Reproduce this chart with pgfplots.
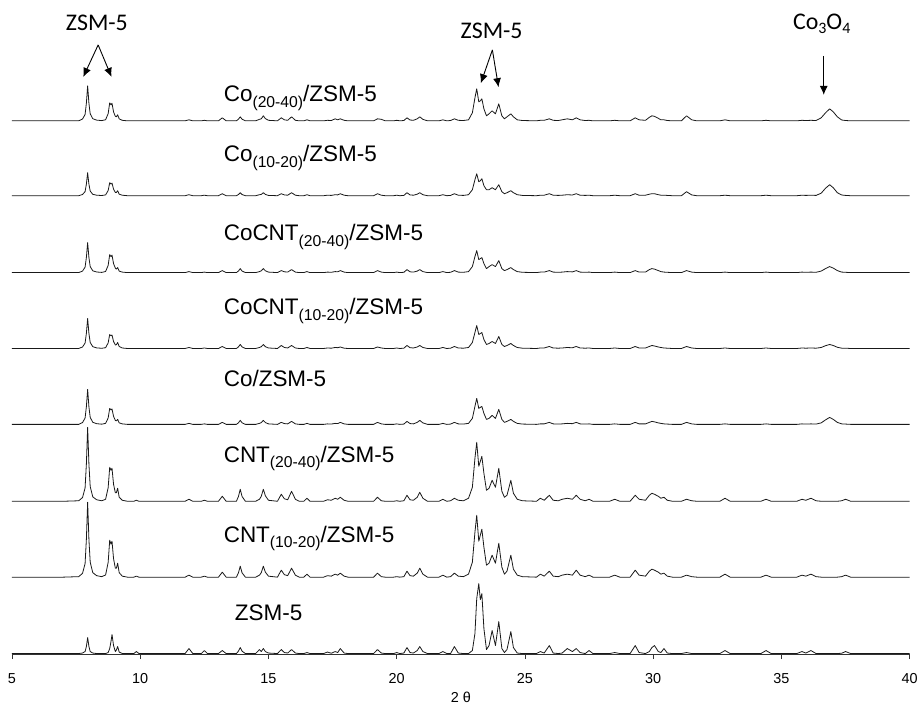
\documentclass[border=0pt]{standalone}
\usepackage{fontspec}
\setmainfont{Liberation Sans}
\newfontfamily\calibri{Carlito}
\usepackage{pgfplots}
\usepackage{pgfplotstable}
\pgfplotsset{compat=1.18}
\usetikzlibrary{arrows.meta}
\newcommand{\sub}[1]{\raisebox{-5.5pt}{\fontsize{15.8}{15.8}\selectfont #1}}
\newcommand{\csub}[1]{\raisebox{-4pt}{\fontsize{16}{16}\selectfont #1}}
\tikzset{
  lbl/.style={anchor=base west, font=\fontsize{22.6}{22.6}\selectfont, inner sep=0pt},
  ann/.style={anchor=base, font=\calibri\fontsize{24}{24}\selectfont, inner sep=0pt},
  trace/.style={black!90, solid, no marks, line width=0.8bp, line join=round},
}

\pgfplotstableread{
x Z C1 C2 Co CC1 CC2 K1 K2
5.0 0 0 0 0 0 0 0 0
7.0 0 0 0 0 0 0 0 0
7.6 0 0.5 0.5 0 0 0 0 0
7.75 0.5 3.8 3.7 1.8 1.5 1.5 1.2 1.8
7.85 2 13.5 13.3 6.3 5.4 5.4 4.1 6.3
7.9 7 37.5 37 17.5 15 15 11.5 17.5
7.95 16 75 74 35 30 30 23 35
8.0 7 37.5 37 17.5 15 15 11.5 17.5
8.05 2 15 14.8 7 6 6 4.6 7
8.15 0.5 4.5 4.4 2.1 1.8 1.8 1.4 2.1
8.3 0 1.5 1.5 0.7 0.6 0.6 0.5 0.7
8.5 0 0.5 0.5 0.2 0.2 0.2 0.2 0.2
8.65 0 2.2 2 1 0.8 1.1 0.8 1.1
8.75 1 14.8 13.6 6.4 5.6 7.2 5.2 7.2
8.81 5 37 34 16 14 18 13 18
8.86 12 33 31 14.5 12.6 16 11.7 16
8.9 19 36 33 15.5 13.5 17.5 12.6 17.5
8.96 8 18.5 17 8 7 9 6.5 9
9.03 2 9 8.5 4 3.5 4.5 3.3 4.5
9.07 3.5 9 8.5 3.5 3.8 3.5 3.2 4
9.12 7 14 13 5 6 5 5 6
9.18 1.5 4.5 4 1.5 2 1.5 1.5 2
9.3 0 1 1 0.5 0.5 0.5 0.5 0.5
9.5 0 0 0 0 0 0 0 0
9.75 0 0 0 0 0 0 0 0
9.85 2 1 1 0 0 0 0 0
9.95 0 0 0 0 0 0 0 0
11.75 0 0 0 0 0 0 0 0
11.9 5 2 2 1 1 1 1 1
12.05 0 0 0 0 0 0 0 0
12.38 0 0 0 0 0 0 0 0
12.5 3 1 1 0.5 0.5 0.5 0.5 0.5
12.62 0 0 0 0 0 0 0 0
13.05 0 0 0 0 0 0 0 0
13.2 3 5 5 2 2 2 2 3
13.35 0 0 0 0 0 0 0 0
13.75 0 0 0 0 0 0 0 0
13.83 2.4 4.4 4.8 1.6 1.6 1.6 1.2 1.6
13.9 6 11 12 4 4 4 3 4
13.97 2.4 4.4 4.8 1.6 1.6 1.6 1.2 1.6
14.1 0 0 0 0 0 0 0 0
14.5 0 0 0 0 0 0 0 0
14.65 4 2 2 1 1 1 1 1.5
14.72 2 4.5 5 1.8 1.8 1.8 1.3 2
14.8 5 11 12 4 4 4 3 5
14.88 2 5 5.5 1.8 1.8 1.8 1.3 2.2
15.0 0.5 1 1 0.5 0.5 0.5 0.3 0.5
15.35 0 0 0 0 0 0 0 0
15.5 4 7 7 2 3 2 2 3
15.62 1 2.5 2.5 0.8 1 0.8 0.8 1
15.75 0.5 1.5 1.5 0.5 0.5 0.5 0.5 0.5
15.9 4 9 10 3 3 3 3 4
16.05 0.5 2 2 0.5 0.5 0.5 0.5 0.5
16.2 0 0 0 0 0 0 0 0
16.38 0 0 0 0 0 0 0 0
16.5 1 3 3 1 1 1 1 1
16.62 0 0 0 0 0 0 0 0
17.15 0 0 0 0 0 0 0 0
17.3 1.5 1.5 1.5 0.5 0.5 0.5 0.5 0.5
17.45 0.3 1 1 0.3 0.3 0.3 0.3 0.3
17.6 2 3 3 1 1 1 1 2
17.7 1 2 2 0.8 0.8 0.8 0.8 1
17.8 5 4 4 2 1.5 2 2 2
17.95 0.5 1 1 0.5 0.3 0.5 0.5 0.5
18.1 0 0 0 0 0 0 0 0
19.1 0 0 0 0 0 0 0 0
19.25 4 4 4 2 1.5 2 2 2
19.4 0.5 0.5 0.5 0.5 0.5 0.5 0.5 1.5
19.55 0 0 0 0 0 0 0 0
19.88 0 0 0 0 0 0 0 0
20.0 1 0.5 0.5 0.5 0.5 0.5 0.5 0.5
20.12 0 0 0 0 0 0 0 0
20.28 0.5 0.5 0.5 0.3 0.3 0.3 0.3 0.3
20.4 6 6 6 3 3 3 3 3
20.52 1 1.5 1.5 0.8 0.8 0.8 0.8 0.8
20.65 0.5 1 1 0.5 0.5 0.5 0.5 0.5
20.8 3 4 4 2 1.5 1.5 1.5 2
20.9 7 9 9 4 3 3 3 4
21.02 2 3 3 1.5 1 1 1 1.5
21.2 0 0 0 0 0 0 0 0
21.65 0 0 0 0 0 0 0 0
21.8 2 2 2 1 1 1 1 1
21.95 0 0 0 0 0 0 0 0
22.1 0 0.5 0.5 0.3 0.3 0.3 0.3 0.3
22.25 7 4 3 2 2 2 2 2
22.4 0.5 1 1 0.5 0.5 0.5 0.5 0.5
22.6 0 0.5 0.5 0.3 0.3 0.3 0.3 0.3
22.8 0 3 3 1 1 1 1 1
22.95 3 15 14 6 6 6 6 8
23.05 20 45 43 18 16 16 16 23
23.12 55 62 59 26 23 22 22 32
23.2 70 36 35 16 14 13 14 19
23.26 54 42 40 17 15 14 15 20
23.32 60 48 45 18 16 15 17 22
23.4 25 30 28 11 9 9 10 12
23.5 4 12 11 5 4 4 6 5
23.6 8 14 13 6 5 6 6 7
23.72 23 22 21 9 7 8 8 10
23.85 8 14 14 6 5 6 6 7
23.98 32 34 33 15 12 12 11 17
24.1 5 10 10 5 4 4 4 5
24.2 1 3 4 2 2 2 2 2
24.3 4 6 6 3 3 3 3 4
24.45 22 22 21 5 5 5 5 7
24.55 6 8 8 3 3 3 3 4
24.7 0.5 2 2 1 1 1 1 1
24.9 0 0.5 0.5 0.3 0.3 0.3 0.3 0.3
25.45 0 0 0 0 0 0 0 0
25.6 2 3 3 0.5 0.5 0.5 0.5 0.5
25.75 0.5 1 1 0.5 0.5 0.5 0.5 0.5
25.95 8 6 6 2 2 2 2 2
26.1 0.5 1 1 0.5 0.5 0.5 0.5 0.5
26.3 0 0.5 0.5 0.3 0.3 0.3 0.3 0.3
26.45 0.5 2 2 0.5 0.5 0.5 0.5 1
26.65 5 3 3 1 1 1 1 2
26.85 2 2 2 0.7 0.7 0.7 0.7 1
27.0 5 7 6 2 2 2 2 3
27.15 1 2 2 0.5 0.5 0.5 0.5 1
27.35 0 0.5 0.5 0.3 0.3 0.3 0.3 0.3
27.5 3 2 2 0.5 0.5 0.5 0.5 0.5
27.65 0 0 0 0 0 0 0 0
28.3 0 0 0 0 0 0 0 0
28.5 1 2 2 0.5 0.5 0.5 0.5 0.5
28.7 0 0 0 0 0 0 0 0
29.1 0 0 0 0 0 0 0 0
29.3 8 7 6 2 2 2 2 3
29.45 1 2 2 0.5 0.5 0.5 0.5 1
29.7 0 1 1 0.5 0.5 0.5 0.5 0.5
29.85 2 6 6 2 2 3 1.5 3.5
29.95 6 8 8 3 3 4 2 5
30.05 8 7 7 2.5 2.5 3.5 2 4.5
30.2 2 5 5 1.5 1.5 2 1 2.5
30.3 1 3 3 1 1 1 0.5 1
30.42 5 4 4 0.5 0.5 0.5 0.5 1
30.55 0.5 1 1 0.3 0.3 0.3 0.3 0.3
30.75 0 0 0 0 0 0 0 0
31.1 0 0 0 0 0 0 0 0
31.3 1 2 2 2 2 2 4 5
31.5 0 0.5 0.5 0.5 0.5 0.5 0.8 1
31.7 0 0 0 0 0 0 0 0
32.6 0 0 0 0 0 0 0 0
32.8 3 3 3 0.5 0.5 0.5 0.5 1
33.0 0 0 0 0 0 0 0 0
34.2 0 0 0 0 0 0 0 0
34.4 3 2 2 0.5 0.5 0.5 0.5 0.5
34.6 0 0 0 0 0 0 0 0
35.6 0 0 0 0 0 0 0 0
35.8 2 2 2 0.5 0.5 0.5 0.5 0.5
35.95 0.5 1 1 0.3 0.3 0.3 0.3 0.3
36.15 3 3 3 0.5 0.5 0.5 0.5 0.5
36.35 0 0.5 0.5 0.3 0.3 0.3 0.3 0.3
36.55 0 0 0 1.5 1 1.5 2.5 3
36.72 0 0 0 4.5 2.8 4 7.5 8
36.88 0 0 0 7 4 6 11 12
37.02 0 0 0 5 3 4.5 8 9
37.18 0 0 0 2 1.2 2 3 4
37.35 0.3 0.5 0.5 0.5 0.3 0.5 0.7 0.8
37.5 2 2 2 0.3 0.3 0.3 0.3 0.3
37.7 0 0 0 0 0 0 0 0
40.0 0 0 0 0 0 0 0 0
}\xrd

\begin{document}
\begin{tikzpicture}
\path (-12bp,-49bp) rectangle (909bp,655bp);
\begin{axis}[
  scale only axis,
  width=899bp, height=655bp,
  xmin=5, xmax=40, ymin=0, ymax=655,
  clip=false,
  axis x line=bottom,
  axis y line=none,
  axis line style={black!80, line width=0.8bp, -},
  xtick={5,10,...,40},
  tick align=outside,
  major tick length=5bp,
  tick style={black!80, line width=0.8bp},
  /pgf/number format/assume math mode=true,
  xticklabel style={font=\fontsize{14.5}{14.5}\selectfont, yshift=-11bp},
  xlabel={2 θ},
  xlabel style={font=\fontsize{14.5}{14.5}\selectfont, yshift=-1bp},
]
\addplot[trace] table[x=x, y expr=\thisrow{Z}+0.5] {\xrd};
\addplot[trace] table[x=x, y expr=\thisrow{C1}+77] {\xrd};
\addplot[trace] table[x=x, y expr=\thisrow{C2}+153] {\xrd};
\addplot[trace] table[x=x, y expr=\thisrow{Co}+230] {\xrd};
\addplot[trace] table[x=x, y expr=\thisrow{CC1}+306] {\xrd};
\addplot[trace] table[x=x, y expr=\thisrow{CC2}+382] {\xrd};
\addplot[trace] table[x=x, y expr=\thisrow{K1}+459] {\xrd};
\addplot[trace] table[x=x, y expr=\thisrow{K2}+534] {\xrd};

\node[lbl] at (axis cs:13.25,553) {Co\sub{(20-40)}/ZSM-5};
\node[lbl] at (axis cs:13.25,493) {Co\sub{(10-20)}/ZSM-5};
\node[lbl] at (axis cs:13.25,414) {CoCNT\sub{(20-40)}/ZSM-5};
\node[lbl] at (axis cs:13.25,340) {CoCNT\sub{(10-20)}/ZSM-5};
\node[lbl] at (axis cs:13.25,268) {Co/ZSM-5};
\node[lbl] at (axis cs:13.25,192) {CNT\sub{(20-40)}/ZSM-5};
\node[lbl] at (axis cs:13.25,112) {CNT\sub{(10-20)}/ZSM-5};
\node[lbl] at (axis cs:13.68,34) {ZSM-5};

\node[ann] at (axis cs:8.31,624) {ZSM-5};
\node[ann] at (axis cs:23.70,616) {ZSM-5};
\node[ann] at (axis cs:36.57,625) {Co\csub{3}O\csub{4}};

\draw[-{Latex[length=9bp,width=8bp]}, line width=0.9bp] (axis cs:8.36,610) -- (axis cs:7.78,578);
\draw[-{Latex[length=9bp,width=8bp]}, line width=0.9bp] (axis cs:8.36,610) -- (axis cs:8.88,578);
\draw[-{Latex[length=9bp,width=8bp]}, line width=0.9bp] (axis cs:23.73,605) -- (axis cs:23.28,571.7);
\draw[-{Latex[length=9bp,width=8bp]}, line width=0.9bp] (axis cs:23.73,605) -- (axis cs:23.97,567.7);
\draw[-{Latex[length=9bp,width=8bp]}, line width=0.9bp] (axis cs:36.65,599) -- (axis cs:36.65,560);
\end{axis}
\end{tikzpicture}
\end{document}
